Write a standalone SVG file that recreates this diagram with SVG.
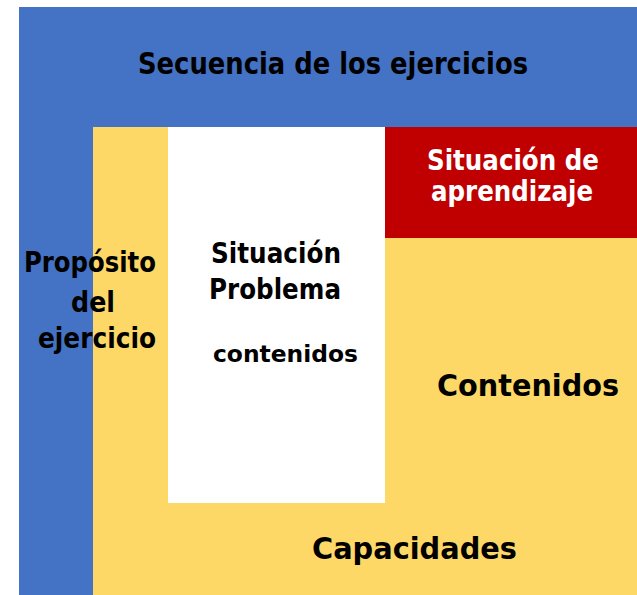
<svg xmlns="http://www.w3.org/2000/svg" width="637" height="595" viewBox="0 0 637 595">
<style>
text{font-family:"DejaVu Sans","Verdana",sans-serif;font-weight:bold;}
.dk{fill:#000;}
.wt{fill:#fff;}
</style>
<rect width="637" height="595" fill="#fff"/>
<g id="secuencia">
<rect x="19" y="7" width="618" height="588" fill="#4472C4"/>
<text class="dk" x="138" y="74" font-size="30" textLength="390" lengthAdjust="spacingAndGlyphs">Secuencia de los ejercicios</text>
</g>
<g id="capacidades">
<rect x="93" y="127" width="544" height="468" fill="#FDD866"/>
<text class="dk" x="312" y="559" font-size="30" textLength="205" lengthAdjust="spacingAndGlyphs">Capacidades</text>
</g>
<g id="contenidos">
<text class="dk" x="437" y="396" font-size="30" textLength="182" lengthAdjust="spacingAndGlyphs">Contenidos</text>
</g>
<g id="situacion-problema">
<rect x="168" y="127" width="217" height="376" fill="#fff"/>
<text class="dk" x="211" y="263" font-size="29" textLength="130" lengthAdjust="spacingAndGlyphs">Situación</text>
<text class="dk" x="209" y="299" font-size="29" textLength="132" lengthAdjust="spacingAndGlyphs">Problema</text>
<text class="dk" x="213" y="362" font-size="23" textLength="145" lengthAdjust="spacingAndGlyphs">contenidos</text>
</g>
<g id="situacion-aprendizaje">
<rect x="385" y="127" width="252" height="111" fill="#C00000"/>
<text class="wt" x="427" y="170" font-size="29" textLength="172" lengthAdjust="spacingAndGlyphs">Situación de</text>
<text class="wt" x="431" y="201" font-size="29" textLength="162" lengthAdjust="spacingAndGlyphs">aprendizaje</text>
</g>
<g id="proposito">
<text class="dk" x="24" y="272" font-size="28" textLength="132" lengthAdjust="spacingAndGlyphs">Propósito</text>
<text class="dk" x="71" y="312" font-size="28" textLength="44" lengthAdjust="spacingAndGlyphs">del</text>
<text class="dk" x="38" y="348" font-size="28" textLength="118" lengthAdjust="spacingAndGlyphs">ejercicio</text>
</g>
</svg>
